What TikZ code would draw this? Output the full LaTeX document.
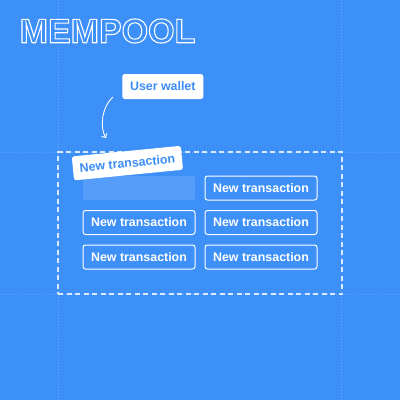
\documentclass[tikz,border=0pt]{standalone}
\usepackage{fontspec}
\setmainfont{Liberation Sans}
\usetikzlibrary{arrows.meta}
\definecolor{bg}{HTML}{3D90F8}
\definecolor{txtblue}{HTML}{3B8DF5}
\definecolor{gridc}{HTML}{6AA9FA}
\definecolor{ghost}{HTML}{559DF9}
\definecolor{dashc}{HTML}{DCEAFE}
\begin{document}
\begin{tikzpicture}[x=1pt,y=-1pt,
  txbox/.style={draw=white, line width=1pt, rounded corners=2.5pt, minimum width=112pt, minimum height=24pt, inner sep=0pt, text=white, font=\bfseries\fontsize{12.4}{14}\selectfont},
  ghostbox/.style={fill=ghost, rounded corners=2.5pt, minimum width=112pt, minimum height=24pt, inner sep=0pt},
  lbl/.style={fill=white, rounded corners=2.5pt, inner sep=0pt, text=txtblue, font=\bfseries\fontsize{12.4}{14}\selectfont},
  gridline/.style={gridc, line width=1pt, dash pattern=on 1pt off 2pt},
  poolbox/.style={draw=dashc, line width=1.3pt, dash pattern=on 5pt off 3.5pt, minimum width=284pt, minimum height=142pt, inner sep=0pt}]
\fill[bg] (0,0) rectangle (400,400);
\useasboundingbox (0,0) rectangle (400,400);
% grid
\coordinate (g1t) at (58.5,0); \coordinate (g1b) at (58.5,400);
\coordinate (g2t) at (341.5,0); \coordinate (g2b) at (341.5,400);
\coordinate (h1l) at (0,152); \coordinate (h1r) at (400,152);
\coordinate (h2l) at (0,294); \coordinate (h2r) at (400,294);
\draw[gridline] (g1t) -- (g1b);
\draw[gridline] (g2t) -- (g2b);
\draw[gridline] (h1l) -- (h1r);
\draw[gridline] (h2l) -- (h2r);
% pool
\node[poolbox] (pool) at (200,223) {};
% title
\node[anchor=west, inner sep=0pt, text=white, font=\bfseries\fontsize{34}{40}\selectfont] (title) at (19.5,31)
  {\special{pdf:literal direct 1 Tr 1.1 w}MEMPOOL\special{pdf:literal direct 0 Tr}};
% boxes
\node[ghostbox] (b11) at (139,188) {};
\node[txbox] (b12) at (261,188) {New transaction};
\node[txbox] (b21) at (139,222.5) {New transaction};
\node[txbox] (b22) at (261,222.5) {New transaction};
\node[txbox] (b31) at (139,257) {New transaction};
\node[txbox] (b32) at (261,257) {New transaction};
% labels
\node[lbl, minimum width=81pt, minimum height=25pt] (wallet) at (162.8,86.5) {User wallet};
\node[lbl, rotate=5.6, minimum width=109.5pt, minimum height=24pt] (tilt) at (127.4,163.1) {New transaction};
% arrow
\coordinate (a1) at (113,97);
\coordinate (a2) at (106,138);
\draw[white, line width=0.9pt, -{Straight Barb[length=3pt,width=6pt]}] (a1) .. controls (101,108) and (100,128) .. (a2);
\end{tikzpicture}
\end{document}
